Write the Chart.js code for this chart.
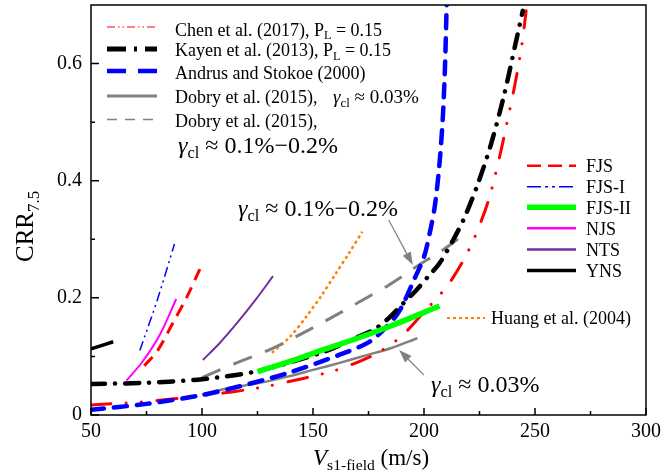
<!DOCTYPE html>
<html>
<head>
<meta charset="utf-8">
<script src="https://cdn.jsdelivr.net/npm/chart.js@4.4.0/dist/chart.umd.min.js"></script>
<style>
  html, body { margin: 0; padding: 0; background: #fff; }
  canvas { display: block; }
</style>
</head>
<body>
<canvas id="crr-chart" width="668" height="474"></canvas>
<script>
// CRR7.5 vs Vs1 curves
const xTickValues = [50, 100, 150, 200, 250, 300];
const xMinorTicks = [75, 125, 175, 225, 275];
const yTickValues = [0, 0.2, 0.4, 0.6];
const yMinorTicks = [0.1, 0.3, 0.5];

const chenX = [50, 75, 100, 125, 145, 160, 170, 180, 190, 200, 210, 217, 223, 229, 234, 238, 241, 244, 246];
const chenY = [0.017, 0.023, 0.033, 0.046, 0.062, 0.076, 0.09, 0.108, 0.135, 0.176, 0.218, 0.259, 0.305, 0.366, 0.44, 0.51, 0.565, 0.63, 0.69];

const kayenX = [50, 75, 100, 125, 155, 170, 178, 184, 190, 196, 202, 207, 213, 218, 224, 230, 236, 241, 244.5];
const kayenY = [0.053, 0.055, 0.061, 0.075, 0.108, 0.133, 0.147, 0.165, 0.188, 0.211, 0.237, 0.259, 0.298, 0.335, 0.392, 0.46, 0.545, 0.63, 0.69];

const andrusX = [50, 75, 100, 117, 139, 162, 175, 183, 189, 196, 200, 203, 205, 207, 208.5, 209.5, 210.2];
const andrusY = [0.009, 0.019, 0.034, 0.049, 0.072, 0.103, 0.124, 0.15, 0.178, 0.235, 0.27, 0.318, 0.36, 0.43, 0.51, 0.6, 0.7];

const dobryLoX = [100, 112, 125, 139, 150, 162, 175, 185, 197];
const dobryLoY = [0.035, 0.046, 0.054, 0.066, 0.077, 0.089, 0.103, 0.114, 0.131];

const dobryHiX = [100, 115, 132, 148, 163, 175, 183, 190, 198, 205, 212, 219];
const dobryHiY = [0.064, 0.088, 0.114, 0.145, 0.176, 0.202, 0.219, 0.236, 0.257, 0.273, 0.291, 0.312];

const fjsX = [74, 80, 87, 93, 99.5];
const fjsY = [0.084, 0.11, 0.158, 0.2, 0.253];

const fjs1X = [72, 80, 87.6];
const fjs1Y = [0.11, 0.198, 0.292];

const fjs2X = [125, 140, 155, 170, 185, 207];
const fjs2Y = [0.074, 0.092, 0.112, 0.131, 0.152, 0.186];

const njsX = [66, 73, 81, 88.4];
const njsY = [0.059, 0.09, 0.137, 0.198];

const ntsX = [100.4, 108, 116, 124, 132];
const ntsY = [0.094, 0.123, 0.158, 0.196, 0.237];

const ynsX = [50, 60];
const ynsY = [0.113, 0.125];

const huangX = [131.5, 140, 147, 154, 160, 166, 172.2];
const huangY = [0.106, 0.135, 0.168, 0.205, 0.24, 0.275, 0.313];

// arrow annotations, in data units
const arrowHi = { from: [184.1, 0.333], to: [195.0, 0.256] };
const arrowLo = { from: [200, 0.068], to: [188.8, 0.111] };

const SERIF = '"Liberation Serif", "Times New Roman", serif';
Chart.defaults.font.family = SERIF;
Chart.defaults.color = '#000';

function pts(xs, ys) {
    return xs.map((x, i) => ({ x: x, y: ys[i] }));
}

function line(label, xs, ys, color, width, dash, cap, order) {
    return {
        label: label,
        data: pts(xs, ys),
        borderColor: color,
        borderWidth: width,
        borderDash: dash || [],
        borderCapStyle: cap || 'butt',
        tension: 0.3,
        pointRadius: 0,
        fill: false,
        order: order
    };
}

const datasets = [
    line('FJS-II', fjs2X, fjs2Y, '#00ff00', 5.5, null, 'butt', 0),
    line('Kayen', kayenX, kayenY, '#000000', 4.5, [14, 10, 0.1, 10], 'round', 1),
    line('Andrus', andrusX, andrusY, '#0000ff', 4.5, [13, 10], 'round', 2),
    line('Chen', chenX, chenY, '#ff0000', 3, [20, 15, 0.1, 15, 0.1, 16], 'round', 3),
    line('DobryLo', dobryLoX, dobryLoY, '#808080', 2.5, null, 'butt', 4),
    line('DobryHi', dobryHiX, dobryHiY, '#808080', 3, [20, 14], 'butt', 5),
    line('Huang', huangX, huangY, '#ff8000', 2.5, [3, 3], 'butt', 6),
    line('FJS', fjsX, fjsY, '#ff0000', 3, [12, 8], 'butt', 7),
    line('FJS-I', fjs1X, fjs1Y, '#0000ff', 1.5, [10, 4, 2, 4, 2, 4], 'butt', 8),
    line('NJS', njsX, njsY, '#ff00ff', 2, null, 'butt', 9),
    line('NTS', ntsX, ntsY, '#7030a0', 2, null, 'butt', 10),
    line('YNS', ynsX, ynsY, '#000000', 3.5, null, 'butt', 11)
];

function rich(ctx, x, y, parts, size) {
    let cx = x;
    parts.forEach(p => {
        const s = p.sub ? size * 0.68 : size;
        ctx.font = (p.it ? 'italic ' : '') + s + 'px ' + SERIF;
        ctx.fillText(p.t, cx, y + (p.sub ? size * 0.22 : 0));
        cx += ctx.measureText(p.t).width;
    });
    return cx - x;
}

function sample(ctx, x1, x2, yy, color, width, dash, cap) {
    ctx.beginPath();
    ctx.strokeStyle = color;
    ctx.lineWidth = width;
    ctx.setLineDash(dash || []);
    ctx.lineCap = cap || 'butt';
    ctx.moveTo(x1, yy);
    ctx.lineTo(x2, yy);
    ctx.stroke();
    ctx.setLineDash([]);
    ctx.lineCap = 'butt';
}

function arrow(ctx, x1, y1, x2, y2) {
    const ang = Math.atan2(y2 - y1, x2 - x1), L = 13, W = 4.5;
    const bx = x2 - L * Math.cos(ang), by = y2 - L * Math.sin(ang);
    ctx.strokeStyle = '#808080';
    ctx.fillStyle = '#808080';
    ctx.lineWidth = 1.2;
    ctx.beginPath();
    ctx.moveTo(x1, y1);
    ctx.lineTo(bx, by);
    ctx.stroke();
    ctx.beginPath();
    ctx.moveTo(x2, y2);
    ctx.lineTo(bx + W * Math.sin(ang), by - W * Math.cos(ang));
    ctx.lineTo(bx - W * Math.sin(ang), by + W * Math.cos(ang));
    ctx.closePath();
    ctx.fill();
}

const gamma = [{ t: 'γ', it: true }, { t: 'cl', sub: true }];

const decor = {
    id: 'decor',
    afterDatasetsDraw(chart) {
        const { ctx, chartArea: a, scales: { x, y } } = chart;
        ctx.save();

        // frame and inward ticks
        ctx.strokeStyle = '#000';
        ctx.lineWidth = 1.5;
        ctx.strokeRect(a.left, a.top, a.right - a.left, a.bottom - a.top);
        ctx.beginPath();
        xTickValues.forEach(v => { const p = x.getPixelForValue(v); ctx.moveTo(p, a.bottom); ctx.lineTo(p, a.bottom - 7); });
        xMinorTicks.forEach(v => { const p = x.getPixelForValue(v); ctx.moveTo(p, a.bottom); ctx.lineTo(p, a.bottom - 4); });
        yTickValues.forEach(v => { const p = y.getPixelForValue(v); ctx.moveTo(a.left, p); ctx.lineTo(a.left + 8, p); });
        yMinorTicks.forEach(v => { const p = y.getPixelForValue(v); ctx.moveTo(a.left, p); ctx.lineTo(a.left + 4, p); });
        ctx.stroke();

        ctx.fillStyle = '#000';
        ctx.textBaseline = 'alphabetic';
        ctx.textAlign = 'left';

        // axis titles
        rich(ctx, 313, 465, [{ t: 'V', it: true }, { t: 's1-field', sub: true }, { t: ' (m/s)' }], 23);
        ctx.save();
        ctx.translate(33, 262);
        ctx.rotate(-Math.PI / 2);
        rich(ctx, 0, 0, [{ t: 'CRR' }, { t: '7.5', sub: true }], 25);
        ctx.restore();

        // upper-left legend
        const lx1 = 107, lx2 = 157, tx = 175;
        sample(ctx, lx1, lx2, 27, '#ff0000', 1.2, [8, 3, 1.5, 3, 1.5, 3]);
        rich(ctx, tx, 35.5, [{ t: 'Chen et al. (2017), P' }, { t: 'L', sub: true }, { t: ' = 0.15' }], 18);
        sample(ctx, lx1, lx2, 49, '#000000', 5, [19, 8, 3, 8]);
        rich(ctx, tx, 56, [{ t: 'Kayen et al. (2013), P' }, { t: 'L', sub: true }, { t: ' = 0.15' }], 18);
        sample(ctx, lx1, lx2, 71, '#0000ff', 4.5, [19, 12]);
        rich(ctx, tx, 79, [{ t: 'Andrus and Stokoe (2000)' }], 18);
        sample(ctx, lx1, lx2, 96, '#808080', 3);
        const w4 = rich(ctx, tx, 103, [{ t: 'Dobry et al. (2015),' }], 18);
        rich(ctx, Math.max(tx + w4 + 12, 333), 103, gamma.concat([{ t: ' ≈ 0.03%' }]), 19);
        sample(ctx, lx1, lx2, 119.5, '#808080', 1.5, [10, 8]);
        rich(ctx, tx, 127, [{ t: 'Dobry et al. (2015),' }], 18);
        rich(ctx, 178, 153, gamma.concat([{ t: ' ≈ 0.1%−0.2%' }]), 24);

        // right legend
        const rows = [
            ['FJS', '#ff0000', 2.5, [14, 7]],
            ['FJS-I', '#0000ff', 1.5, [14, 4, 3, 4, 3, 4]],
            ['FJS-II', '#00ff00', 5.5, null],
            ['NJS', '#ff00ff', 2.5, null],
            ['NTS', '#7030a0', 2.5, null],
            ['YNS', '#000000', 3.5, null]
        ];
        const ry = [165.7, 186.7, 207.3, 228.3, 249.5, 270.5];
        rows.forEach((r, i) => {
            sample(ctx, 527, 576, ry[i], r[1], r[2], r[3]);
            ctx.fillStyle = '#000';
            rich(ctx, 586, ry[i] + 6.5, [{ t: r[0] }], 18);
        });

        // Huang label
        sample(ctx, 447, 485, 318, '#ff8000', 2, [3, 3]);
        ctx.fillStyle = '#000';
        rich(ctx, 491, 324, [{ t: 'Huang et al. (2004)' }], 18);

        // strain annotations with arrows
        rich(ctx, 238, 216, gamma.concat([{ t: ' ≈ 0.1%−0.2%' }]), 24);
        rich(ctx, 431, 392, gamma.concat([{ t: ' ≈ 0.03%' }]), 24);
        [arrowHi, arrowLo].forEach(ar => {
            arrow(ctx, x.getPixelForValue(ar.from[0]), y.getPixelForValue(ar.from[1]),
                x.getPixelForValue(ar.to[0]), y.getPixelForValue(ar.to[1]));
        });

        ctx.restore();
    }
};

new Chart(document.getElementById('crr-chart'), {
    type: 'line',
    data: { datasets: datasets },
    options: {
        responsive: false,
        animation: false,
        devicePixelRatio: 1,
        layout: { padding: { top: 5, right: 22, left: 0, bottom: 0 } },
        plugins: { legend: { display: false }, tooltip: { enabled: false } },
        scales: {
            x: {
                type: 'linear',
                min: 50,
                max: 300,
                grid: { display: false, drawTicks: false },
                border: { display: false },
                ticks: { padding: 5, font: { size: 20 }, maxRotation: 0, autoSkip: false },
                afterBuildTicks: s => { s.ticks = xTickValues.map(v => ({ value: v })); },
                afterFit: s => { s.height = 59; s.paddingLeft = 0; s.paddingRight = 0; }
            },
            y: {
                type: 'linear',
                min: 0,
                max: 0.7,
                grid: { display: false, drawTicks: false },
                border: { display: false },
                ticks: {
                    padding: 9,
                    font: { size: 20 },
                    callback: v => (v === 0 ? '0' : v.toFixed(1))
                },
                afterBuildTicks: s => { s.ticks = yTickValues.map(v => ({ value: v })); },
                afterFit: s => { s.width = 91; s.paddingTop = 0; s.paddingBottom = 0; }
            }
        }
    },
    plugins: [decor]
});
</script>
</body>
</html>
